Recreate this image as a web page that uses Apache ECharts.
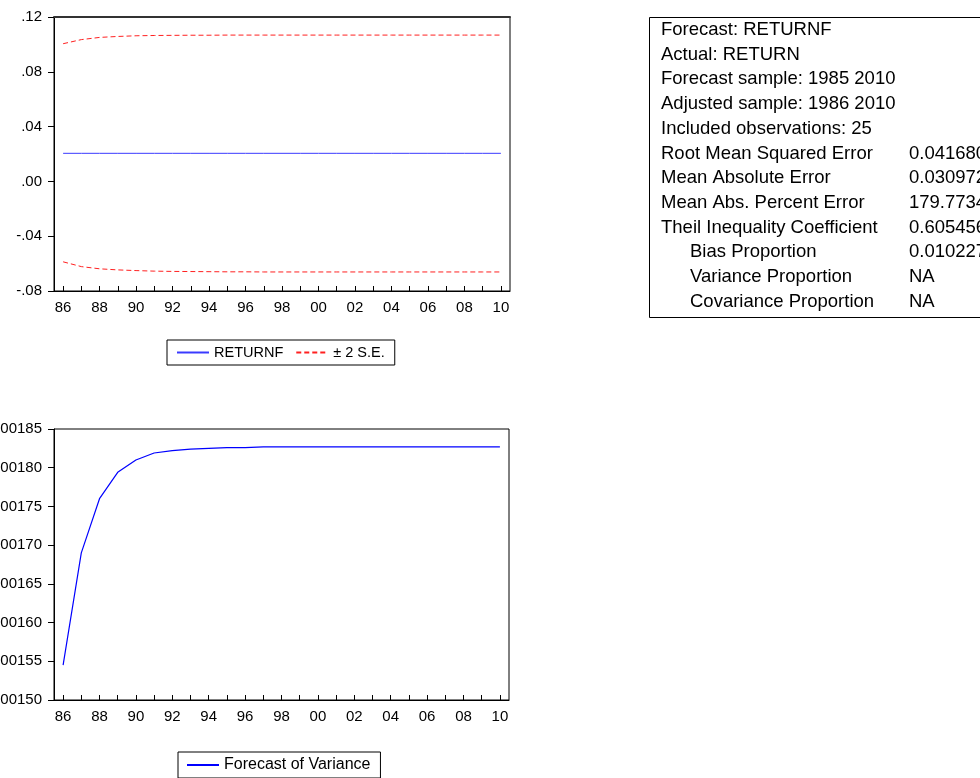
<!DOCTYPE html>
<html>
<head>
<meta charset="utf-8">
<script src="https://cdn.jsdelivr.net/npm/echarts@6/dist/echarts.min.js"></script>
<style>
html,body{margin:0;padding:0;background:#fff;}
#chart{width:980px;height:778px;}
</style>
</head>
<body>
<div id="chart"></div>
<script>
// ---- data ----
const years = ['86','87','88','89','90','91','92','93','94','95','96','97','98','99','00','01','02','03','04','05','06','07','08','09','10'];
const returnF = [0.0205,0.0205,0.0205,0.0205,0.0205,0.0205,0.0205,0.0205,0.0205,0.0205,0.0205,0.0205,0.0205,0.0205,0.0205,0.0205,0.0205,0.0205,0.0205,0.0205,0.0205,0.0205,0.0205,0.0205,0.0205];
const upperSE = [0.1005,0.1035,0.1051,0.1058,0.1063,0.1065,0.1066,0.1067,0.1067,0.1068,0.1068,0.1068,0.1068,0.1068,0.1068,0.1068,0.1068,0.1068,0.1068,0.1068,0.1068,0.1068,0.1068,0.1068,0.1068];
const lowerSE = [-0.0587,-0.0622,-0.0638,-0.0646,-0.0651,-0.0655,-0.0657,-0.0658,-0.0659,-0.0660,-0.0660,-0.0661,-0.0661,-0.0661,-0.0661,-0.0661,-0.0661,-0.0661,-0.0661,-0.0661,-0.0661,-0.0661,-0.0661,-0.0661,-0.0661];
const forecastVariance = [0.001545,0.001690,0.001760,0.001794,0.001810,0.001819,0.001822,0.001824,0.001825,0.001826,0.001826,0.001827,0.001827,0.001827,0.001827,0.001827,0.001827,0.001827,0.001827,0.001827,0.001827,0.001827,0.001827,0.001827,0.001827];
const tableLabels = ['Forecast: RETURNF','Actual: RETURN','Forecast sample: 1985 2010','Adjusted sample: 1986 2010','Included observations: 25','Root Mean Squared Error','Mean Absolute Error','Mean Abs. Percent Error','Theil Inequality Coefficient','Bias Proportion','Variance Proportion','Covariance Proportion'];
const tableIndent = [0,0,0,0,0,0,0,0,0,1,1,1];
const tableValues = ['','','','','','0.041680','0.030972','179.7734','0.605456','0.010227','NA','NA'];

// ---- chart ----
const FONT = 'Liberation Sans';
const chart = echarts.init(document.getElementById('chart'), null, {renderer:'canvas'});

function xAxisCfg(gi){
  return {
    type:'category', gridIndex:gi, data:years, boundaryGap:true, position:'bottom',
    axisLine:{show:true, onZero:false, lineStyle:{color:'#000', width:1}},
    axisTick:{show:true, inside:true, length:5, interval:0, alignWithLabel:true, lineStyle:{color:'#000'}},
    axisLabel:{interval:1, color:'#000', fontSize:15, fontFamily:FONT, margin:9},
    splitLine:{show:false}
  };
}

const graphics = [];
graphics.push({type:'rect', shape:{x:649.5, y:17.5, width:360, height:300}, style:{fill:'#fff', stroke:'#000', lineWidth:1}, z:10});
tableLabels.forEach((t,i)=>{
  const y = 30 + i*24.7;
  graphics.push({type:'text', x: tableIndent[i] ? 690 : 661, y:y, z:11,
    style:{text:t, fill:'#000', fontSize:18.5, fontFamily:FONT, verticalAlign:'middle', align:'left'}});
  if (tableValues[i]) {
    graphics.push({type:'text', x:909, y:y, z:11,
      style:{text:tableValues[i], fill:'#000', fontSize:18.5, fontFamily:FONT, verticalAlign:'middle', align:'left'}});
  }
});

const option = {
  animation:false,
  backgroundColor:'#fff',
  grid:[
    {left:54, top:17, width:456, height:274, show:true, borderColor:'#000', borderWidth:1, backgroundColor:'transparent', outerBoundsMode:'none', containLabel:false},
    {left:54, top:429, width:455, height:271, show:true, borderColor:'#000', borderWidth:1, backgroundColor:'transparent', outerBoundsMode:'none', containLabel:false}
  ],
  xAxis:[xAxisCfg(0), xAxisCfg(1),
    {type:'category', gridIndex:0, data:years, position:'top',
     axisLine:{show:true, onZero:false, lineStyle:{color:'#333', width:2}},
     axisTick:{show:false}, axisLabel:{show:false}, splitLine:{show:false}}
  ],
  yAxis:[
    {type:'value', gridIndex:0, min:-0.08, max:0.12, interval:0.04,
     axisLine:{show:true, lineStyle:{color:'#000'}},
     axisTick:{show:true, length:6, lineStyle:{color:'#000'}},
     axisLabel:{color:'#000', fontSize:15, fontFamily:FONT, margin:12,
       formatter:v=>{ const s=v.toFixed(2); return s.replace(/^(-?)0\./,'$1.'); }},
     splitLine:{show:false}},
    {type:'value', gridIndex:1, min:0.0015, max:0.00185, interval:0.00005,
     axisLine:{show:true, lineStyle:{color:'#000'}},
     axisTick:{show:true, length:6, lineStyle:{color:'#000'}},
     axisLabel:{color:'#000', fontSize:15, fontFamily:FONT, margin:12,
       formatter:v=>{ const s=v.toFixed(5); return s.replace(/^(-?)0\./,'$1.'); }},
     splitLine:{show:false}}
  ],
  legend:[
    {data:['RETURNF','± 2 S.E.'], left:167, top:340, orient:'horizontal',
     borderColor:'#000', borderWidth:1, padding:[5,10,5,9], itemWidth:32, itemHeight:12, itemGap:12,
     itemStyle:{opacity:0},
     textStyle:{fontSize:14.5, color:'#000', fontFamily:FONT}, backgroundColor:'#fff'},
    {data:['Forecast of Variance'], left:178, top:752, orient:'horizontal',
     borderColor:'#000', borderWidth:1, padding:[5,10,5,8], itemWidth:32, itemHeight:12,
     itemStyle:{opacity:0},
     textStyle:{fontSize:16, color:'#000', fontFamily:FONT}, backgroundColor:'#fff'}
  ],
  series:[
    {name:'RETURNF', type:'line', xAxisIndex:0, yAxisIndex:0, data:returnF, symbol:'none',
     lineStyle:{color:'#3a3aff', width:1}, itemStyle:{color:'#3a3aff'}},
    {name:'± 2 S.E.', type:'line', xAxisIndex:0, yAxisIndex:0, data:upperSE, symbol:'none',
     lineStyle:{color:'#ff2020', width:1, type:[5,3]}, itemStyle:{color:'#ff2020'}},
    {name:'± 2 S.E.', type:'line', xAxisIndex:0, yAxisIndex:0, data:lowerSE, symbol:'none',
     lineStyle:{color:'#ff2020', width:1, type:[5,3]}, itemStyle:{color:'#ff2020'}},
    {name:'Forecast of Variance', type:'line', xAxisIndex:1, yAxisIndex:1, data:forecastVariance, symbol:'none',
     lineStyle:{color:'#0000ff', width:1.2}, itemStyle:{color:'#0000ff'}}
  ],
  graphic:{elements:graphics}
};
chart.setOption(option);
</script>
</body>
</html>
